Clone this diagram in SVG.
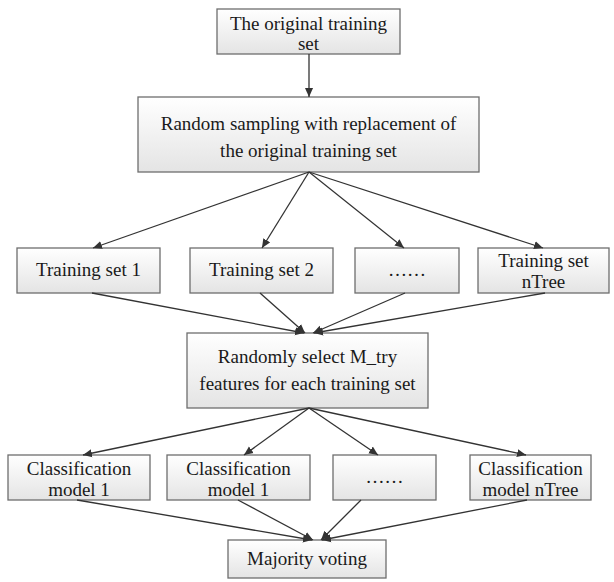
<svg xmlns="http://www.w3.org/2000/svg" width="614" height="582" viewBox="0 0 614 582">
<defs>
<linearGradient id="g" x1="0" y1="0" x2="0" y2="1">
<stop offset="0" stop-color="#ffffff"/>
<stop offset="1" stop-color="#e4e4e4"/>
</linearGradient>
<marker id="a" viewBox="0 0 10 10" refX="10" refY="5" markerWidth="9" markerHeight="9" markerUnits="userSpaceOnUse" orient="auto">
<path d="M0,0.5 L10,5 L0,9.5 z" fill="#333"/>
</marker>
</defs>
<style>
.b{fill:url(#g);stroke:#6e6e6e;stroke-width:1.3}
.t{font-family:"Liberation Serif","Times New Roman",serif;font-size:19px;fill:#1a1a1a;text-anchor:middle}
.c line{stroke:#333;stroke-width:1.3;marker-end:url(#a)}
</style>
<g id="n1"><rect class="b" x="217" y="9" width="183" height="45"/><text class="t" x="308.5" y="30">The original training</text><text class="t" x="308.5" y="50">set</text></g>
<g id="n2"><rect class="b" x="138" y="97" width="341" height="75"/><text class="t" x="308.5" y="130">Random sampling with replacement of</text><text class="t" x="308.5" y="157">the original training set</text></g>
<g id="t1"><rect class="b" x="17" y="248" width="143" height="45"/><text class="t" x="88.5" y="276">Training set 1</text></g>
<g id="t2"><rect class="b" x="190" y="248" width="143" height="45"/><text class="t" x="261.5" y="276">Training set 2</text></g>
<g id="t3"><rect class="b" x="355" y="248" width="104" height="45"/><text class="t" x="407" y="276">……</text></g>
<g id="t4"><rect class="b" x="478" y="248" width="131" height="45"/><text class="t" x="543.5" y="267">Training set</text><text class="t" x="543.5" y="288">nTree</text></g>
<g id="n3"><rect class="b" x="187" y="333" width="241" height="75"/><text class="t" x="307.5" y="363">Randomly select M_try</text><text class="t" x="307.5" y="390">features for each training set</text></g>
<g id="c1"><rect class="b" x="8" y="455" width="142" height="45"/><text class="t" x="79" y="475">Classification</text><text class="t" x="79" y="496">model 1</text></g>
<g id="c2"><rect class="b" x="167" y="455" width="143" height="45"/><text class="t" x="238.5" y="475">Classification</text><text class="t" x="238.5" y="496">model 1</text></g>
<g id="c3"><rect class="b" x="333" y="455" width="103" height="45"/><text class="t" x="384.5" y="483">……</text></g>
<g id="c4"><rect class="b" x="470" y="455" width="121" height="45"/><text class="t" x="530.5" y="475">Classification</text><text class="t" x="530.5" y="496">model nTree</text></g>
<g id="n4"><rect class="b" x="228" y="540" width="158" height="38"/><text class="t" x="307" y="565">Majority voting</text></g>
<g id="connectors" class="c">
<line x1="309" y1="54" x2="309" y2="97"/>
<line x1="309" y1="172" x2="93" y2="248"/>
<line x1="309" y1="172" x2="262" y2="248"/>
<line x1="309" y1="172" x2="404" y2="248"/>
<line x1="309" y1="172" x2="543" y2="248"/>
<line x1="92" y1="293" x2="304" y2="333"/>
<line x1="260" y1="293" x2="305" y2="333"/>
<line x1="405" y1="293" x2="313" y2="333"/>
<line x1="545" y1="293" x2="314" y2="333"/>
<line x1="309" y1="408" x2="83" y2="455"/>
<line x1="309" y1="408" x2="244" y2="455"/>
<line x1="309" y1="408" x2="378" y2="455"/>
<line x1="309" y1="408" x2="526" y2="455"/>
<line x1="77" y1="500" x2="312" y2="540"/>
<line x1="238" y1="500" x2="313" y2="540"/>
<line x1="361" y1="500" x2="321" y2="540"/>
<line x1="527" y1="500" x2="322" y2="540"/>
</g>
</svg>
